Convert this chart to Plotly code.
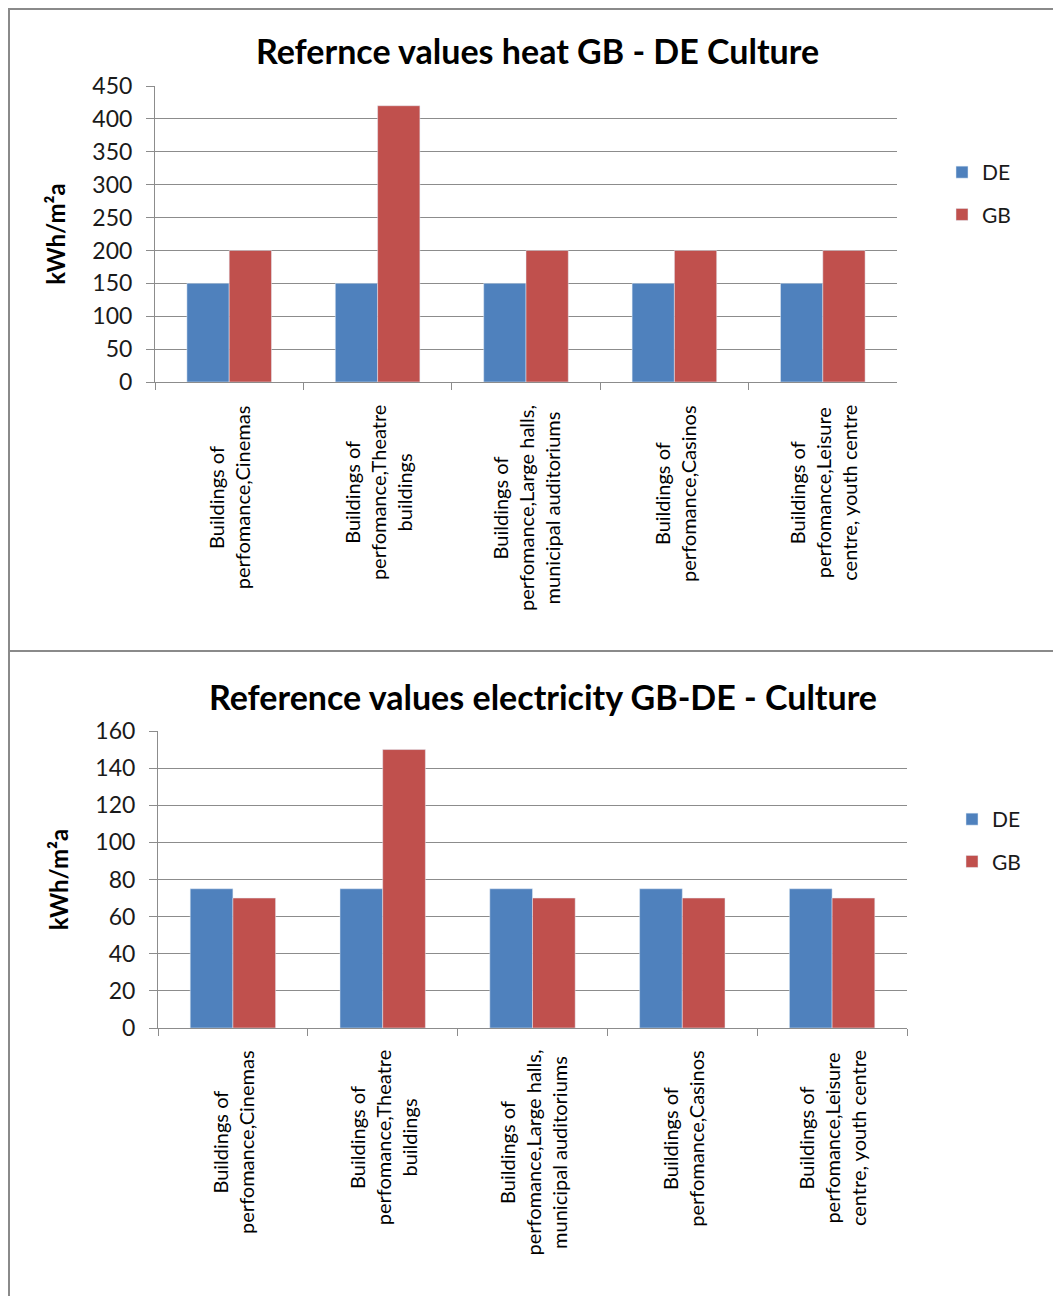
import plotly.graph_objects as go

# categories (x labels) shared by both charts
categories = ["Cinemas", "Theatre", "Large halls", "Casinos", "Leisure"]
cat_labels = [
    "Buildings of<br>perfomance,Cinemas",
    "Buildings of<br>perfomance,Theatre<br>buildings",
    "Buildings of<br>perfomance,Large halls,<br>municipal auditoriums",
    "Buildings of<br>perfomance,Casinos",
    "Buildings of<br>perfomance,Leisure<br>centre, youth centre",
]

# heat reference values
heat_de = [150, 150, 150, 150, 150]
heat_gb = [200, 420, 200, 200, 200]

# electricity reference values
elec_de = [75, 75, 75, 75, 75]
elec_gb = [70, 150, 70, 70, 70]

FONT = "Lato"
BLUE = "#4F81BD"
RED = "#C0504D"
GRID = "#8C8C8C"
W, H = 1061, 1296
OFF = 8  # page body margin

fig = go.Figure()

# top chart: heat
fig.add_trace(go.Bar(x=categories, y=heat_de, name="DE", marker_color=BLUE,
                     xaxis="x", yaxis="y", legend="legend", legendgroup="a"))
fig.add_trace(go.Bar(x=categories, y=heat_gb, name="GB", marker_color=RED,
                     xaxis="x", yaxis="y", legend="legend", legendgroup="b"))
# bottom chart: electricity
fig.add_trace(go.Bar(x=categories, y=elec_de, name="DE", marker_color=BLUE,
                     xaxis="x2", yaxis="y2", legend="legend2", legendgroup="c"))
fig.add_trace(go.Bar(x=categories, y=elec_gb, name="GB", marker_color=RED,
                     xaxis="x2", yaxis="y2", legend="legend2", legendgroup="d"))

# screen pixel -> paper fraction
def px(v):
    return (v - OFF) / W

def py(v):
    return 1 - (v - OFF) / H

xstyle = dict(type="category", showticklabels=False, ticks="outside", tickson="boundaries",
              ticklen=7, tickcolor=GRID, showline=True, linecolor=GRID, linewidth=1,
              showgrid=False, zeroline=False, automargin=False)
ystyle = dict(ticks="outside", ticklen=8, tickcolor=GRID, showline=True, linecolor=GRID,
              linewidth=1, showgrid=True, gridcolor=GRID, gridwidth=1, zeroline=False,
              automargin=False, ticklabelstandoff=9,
              tickfont=dict(family=FONT, size=23, color="#1a1a1a"),
              title=dict(text="<b>kWh/m²a</b>", font=dict(family=FONT, size=24, color="#000"),
                         standoff=19))

fig.update_layout(
    width=W, height=H,
    margin=dict(l=0, r=0, t=0, b=0, autoexpand=False),
    paper_bgcolor="white", plot_bgcolor="white",
    barmode="group", bargap=0.43, bargroupgap=0,
    xaxis=dict(domain=[px(155), px(897)], anchor="y", **xstyle),
    yaxis=dict(domain=[py(382), py(86)], anchor="x", range=[0, 450], dtick=50, **ystyle),
    xaxis2=dict(domain=[px(158), px(907)], anchor="y2", **xstyle),
    yaxis2=dict(domain=[py(1028), py(731)], anchor="x2", range=[0, 160], dtick=20, **ystyle),
    legend=dict(x=px(942), y=py(152), xanchor="left", yanchor="top", tracegroupgap=12,
                font=dict(family=FONT, size=21, color="#1a1a1a"), bgcolor="rgba(0,0,0,0)"),
    legend2=dict(x=px(952), y=py(799), xanchor="left", yanchor="top", tracegroupgap=12,
                 font=dict(family=FONT, size=21, color="#1a1a1a"), bgcolor="rgba(0,0,0,0)"),
    showlegend=True,
)

# titles
fig.add_annotation(text="<b>Refernce values heat GB - DE Culture</b>", xref="paper", yref="paper",
                   x=px(537), y=py(50), yanchor="middle", showarrow=False,
                   font=dict(family=FONT, size=34, color="#000"))
fig.add_annotation(text="<b>Reference values electricity GB-DE - Culture</b>", xref="paper", yref="paper",
                   x=px(543), y=py(696), yanchor="middle", showarrow=False,
                   font=dict(family=FONT, size=34, color="#000"))

# rotated category labels, centred lines like the original
for xa, ytop in (("x", 403), ("x2", 1048)):
    for cat, lab in zip(categories, cat_labels):
        fig.add_annotation(text=lab, x=cat, xref=xa, yref="paper", y=py(ytop),
                           yanchor="top", xanchor="center", textangle=-90, align="center",
                           showarrow=False, font=dict(family=FONT, size=20, color="#000"))

# chart borders
for y0, y1 in ((9, 651), (651, 1310)):
    fig.add_shape(type="rect", xref="paper", yref="paper", x0=px(9), x1=px(1080),
                  y0=py(y1), y1=py(y0), line=dict(color="#8a8a8a", width=2))

fig.write_html("out.html")
